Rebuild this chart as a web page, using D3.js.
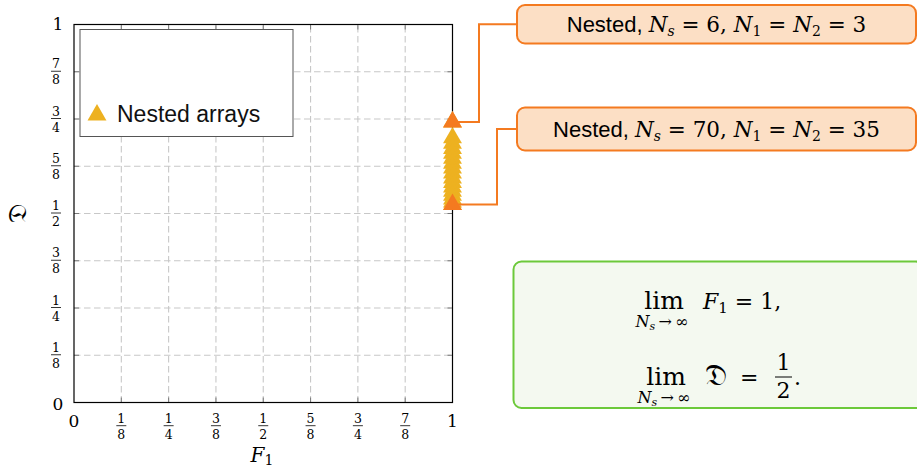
<!DOCTYPE html>
<html>
<head>
<meta charset="utf-8">
<script src="https://cdn.jsdelivr.net/npm/d3@7"></script>
<style>
  body { margin: 0; background: #fff; }
  svg { display: block; }
</style>
</head>
<body>
<svg width="917" height="470"></svg>
<script>
// data
var nsValues = [6, 10, 14, 18, 22, 26, 30, 34, 38, 42, 46, 50, 54, 58, 62, 66, 70];
var f1Values = [1, 1, 1, 1, 1, 1, 1, 1, 1, 1, 1, 1, 1, 1, 1, 1, 1];
var dValues = [0.742, 0.700, 0.686, 0.672, 0.659, 0.646, 0.633, 0.620, 0.607, 0.594, 0.582, 0.570, 0.559, 0.548, 0.538, 0.530, 0.524];
var highlightNs = [6, 70];
var tickValues = [0, 0.125, 0.25, 0.375, 0.5, 0.625, 0.75, 0.875, 1];
var tickLabels = ["0", "1/8", "1/4", "3/8", "1/2", "5/8", "3/4", "7/8", "1"];
var legendLabel = "Nested arrays";

var data = nsValues.map((n, i) => ({ns: n, f1: f1Values[i], d: dValues[i]}));

var svg = d3.select("svg");
var serif = "'DejaVu Serif', 'Liberation Serif', serif";
var sans = "'Liberation Sans', Arial, sans-serif";
var yellow = "#EDB120";
var orange = "#F47A20";

var x = d3.scaleLinear().domain([0, 1]).range([74, 452.5]);
var y = d3.scaleLinear().domain([0, 1]).range([402.5, 24.5]);

// grid
var grid = svg.append("g");
grid.selectAll(".gx").data(tickValues.slice(1, -1)).enter().append("line")
  .attr("x1", d => x(d)).attr("x2", d => x(d))
  .attr("y1", y(0)).attr("y2", y(1))
  .attr("stroke", "#c8c8c8").attr("stroke-width", 1.1)
  .attr("stroke-dasharray", "6.5,3.5");
grid.selectAll(".gy").data(tickValues.slice(1, -1)).enter().append("line")
  .attr("y1", d => y(d)).attr("y2", d => y(d))
  .attr("x1", x(0)).attr("x2", x(1))
  .attr("stroke", "#c8c8c8").attr("stroke-width", 1.1)
  .attr("stroke-dasharray", "6.5,3.5");

// ticks inward on all sides
var tk = svg.append("g").attr("stroke", "#7a7a7a").attr("stroke-width", 1);
tickValues.slice(1, -1).forEach(v => {
  tk.append("line").attr("x1", x(v)).attr("x2", x(v)).attr("y1", y(0)).attr("y2", y(0) - 5);
  tk.append("line").attr("x1", x(v)).attr("x2", x(v)).attr("y1", y(1)).attr("y2", y(1) + 5);
  tk.append("line").attr("y1", y(v)).attr("y2", y(v)).attr("x1", x(0)).attr("x2", x(0) + 5);
  tk.append("line").attr("y1", y(v)).attr("y2", y(v)).attr("x1", x(1)).attr("x2", x(1) - 5);
});

// frame
svg.append("rect")
  .attr("x", x(0)).attr("y", y(1))
  .attr("width", x(1) - x(0)).attr("height", y(0) - y(1))
  .attr("fill", "none").attr("stroke", "#000").attr("stroke-width", 1.2);

// tick labels
function fracLabel(g, lab, cx, numBase, barY, denBase) {
  var parts = lab.split("/");
  g.append("text").attr("x", cx).attr("y", numBase).attr("text-anchor", "middle")
    .attr("font-family", serif).attr("font-size", 12.5).text(parts[0]);
  g.append("line").attr("x1", cx - 5).attr("x2", cx + 5).attr("y1", barY).attr("y2", barY)
    .attr("stroke", "#000").attr("stroke-width", 0.8);
  g.append("text").attr("x", cx).attr("y", denBase).attr("text-anchor", "middle")
    .attr("font-family", serif).attr("font-size", 12.5).text(parts[1]);
}
var tl = svg.append("g");
tickValues.forEach((v, i) => {
  var lab = tickLabels[i];
  if (lab.indexOf("/") < 0) {
    tl.append("text").attr("x", x(v)).attr("y", 427).attr("text-anchor", "middle")
      .attr("font-family", serif).attr("font-size", 17).text(lab);
    tl.append("text").attr("x", 58).attr("y", v === 0 ? 410 : 30).attr("text-anchor", "middle")
      .attr("font-family", serif).attr("font-size", 17).text(lab);
  } else {
    fracLabel(tl, lab, x(v), 422.5, 425.7, 438.5);
    fracLabel(tl, lab, 56, y(v) - 3.5, y(v) - 0.5, y(v) + 12.5);
  }
});

// axis labels
var xl = svg.append("text").attr("x", 262).attr("y", 462).attr("text-anchor", "middle")
  .attr("font-family", serif).attr("font-size", 20);
xl.append("tspan").attr("font-style", "italic").text("F");
xl.append("tspan").attr("font-size", 14).attr("dy", 3).text("1");

svg.append("text")
  .attr("transform", "translate(26,213) rotate(-90)")
  .attr("text-anchor", "middle")
  .attr("font-family", "'DejaVu Serif', 'DejaVu Sans', serif").attr("font-size", 26)
  .text("\u{1D507}");

// markers
var sym = d3.symbol().type(d3.symbolTriangle).size(155);
svg.append("g").selectAll("path").data(data).enter().append("path")
  .attr("d", sym)
  .attr("transform", d => `translate(${x(d.f1)},${y(d.d)})`)
  .attr("fill", yellow);
var hi = data.filter(d => highlightNs.indexOf(d.ns) >= 0);
svg.append("g").selectAll("path").data(hi).enter().append("path")
  .attr("d", sym)
  .attr("transform", d => `translate(${x(d.f1)},${y(d.d)})`)
  .attr("fill", orange);

// legend
var lg = svg.append("g");
lg.append("rect").attr("x", 80).attr("y", 29.5).attr("width", 213).attr("height", 107)
  .attr("fill", "#fff").attr("stroke", "#555").attr("stroke-width", 1);
lg.append("path").attr("d", sym).attr("transform", "translate(97,115)").attr("fill", yellow);
lg.append("text").attr("x", 117).attr("y", 122).attr("font-family", sans).attr("font-size", 23)
  .attr("fill", "#111").text(legendLabel);

// annotation boxes
var boxes = [
  {d: hi[0], top: 5, bottom: 43.5, elbow: 479, n1: "3"},
  {d: hi[1], top: 107.5, bottom: 150.5, elbow: 497, n1: "35"}
];
boxes.forEach(b => {
  var midY = (b.top + b.bottom) / 2;
  svg.append("path")
    .attr("d", `M${x(b.d.f1) + 2},${y(b.d.d)}H${b.elbow}V${midY}H517`)
    .attr("fill", "none").attr("stroke", orange).attr("stroke-width", 2);
  svg.append("rect").attr("x", 517).attr("y", b.top).attr("width", 399).attr("height", b.bottom - b.top)
    .attr("rx", 8).attr("fill", "#FCDFC5").attr("stroke", orange).attr("stroke-width", 2);
  var t = svg.append("text").attr("x", 716.5).attr("y", midY + 8).attr("text-anchor", "middle")
    .attr("font-family", serif).attr("font-size", 21.5).attr("xml:space", "preserve");
  t.append("tspan").attr("font-family", sans).attr("font-size", 22).text("Nested, ");
  t.append("tspan").attr("font-style", "italic").text("N");
  t.append("tspan").attr("font-style", "italic").attr("font-size", 14).attr("dy", 4).text("s");
  t.append("tspan").attr("dy", -4).text(" = " + b.d.ns + ", ");
  t.append("tspan").attr("font-style", "italic").text("N");
  t.append("tspan").attr("font-size", 14).attr("dy", 4).text("1");
  t.append("tspan").attr("dy", -4).text(" = ");
  t.append("tspan").attr("font-style", "italic").text("N");
  t.append("tspan").attr("font-size", 14).attr("dy", 4).text("2");
  t.append("tspan").attr("dy", -4).text(" = " + b.n1);
});

// limit box
var gb = svg.append("g");
gb.append("rect").attr("x", 513.5).attr("y", 261.5).attr("width", 410).attr("height", 146.5)
  .attr("rx", 8).attr("fill", "#F4F9F0").attr("stroke", "#6CC93A").attr("stroke-width", 2);
function limText(cx, cy) {
  gb.append("text").attr("x", cx).attr("y", cy).attr("text-anchor", "middle")
    .attr("font-family", serif).attr("font-size", 25).text("lim");
  var s = gb.append("text").attr("x", cx - 2).attr("y", cy + 18).attr("text-anchor", "middle")
    .attr("font-family", serif).attr("font-size", 16).attr("xml:space", "preserve");
  s.append("tspan").attr("font-style", "italic").text("N");
  s.append("tspan").attr("font-style", "italic").attr("font-size", 11).attr("dy", 3).text("s");
  s.append("tspan").attr("dy", -3).text("\u2009\u2192\u2009\u221E");
}
limText(664, 309);
var l1 = gb.append("text").attr("x", 703).attr("y", 309).attr("font-family", serif).attr("font-size", 22)
  .attr("xml:space", "preserve");
l1.append("tspan").attr("font-style", "italic").text("F");
l1.append("tspan").attr("font-size", 15).attr("dy", 4).text("1");
l1.append("tspan").attr("dy", -4).text(" = 1,");

limText(666, 385);
gb.append("text").attr("x", 705).attr("y", 385).attr("font-family", serif)
  .attr("font-size", 30).text("\u{1D507}");
gb.append("text").attr("x", 740).attr("y", 385).attr("font-family", serif).attr("font-size", 22).text("=");
gb.append("text").attr("x", 783.5).attr("y", 370).attr("text-anchor", "middle")
  .attr("font-family", serif).attr("font-size", 22).text("1");
gb.append("line").attr("x1", 775).attr("x2", 792).attr("y1", 377).attr("y2", 377)
  .attr("stroke", "#000").attr("stroke-width", 1);
gb.append("text").attr("x", 783.5).attr("y", 398).attr("text-anchor", "middle")
  .attr("font-family", serif).attr("font-size", 22).text("2");
gb.append("text").attr("x", 794).attr("y", 385).attr("font-family", serif).attr("font-size", 22).text(".");
</script>
</body>
</html>
